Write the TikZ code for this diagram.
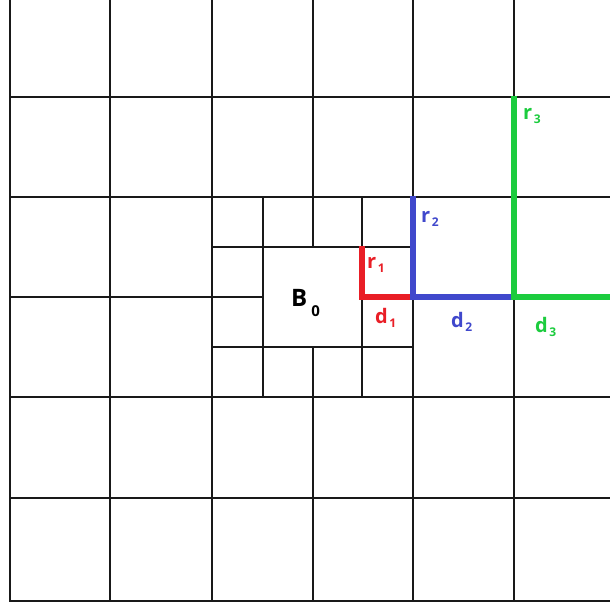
\documentclass[tikz,border=0pt]{standalone}
\usepackage{fontspec}
\setmainfont{Open Sans}
\definecolor{cred}{RGB}{233,30,38}
\definecolor{cblue}{RGB}{64,72,204}
\definecolor{cgreen}{RGB}{28,204,62}
\definecolor{gridc}{RGB}{25,25,25}
\newcommand{\mylab}[2]{\bfseries\fontsize{20}{20}\selectfont #1\hspace{1.5pt}\raisebox{-4pt}{\fontsize{12}{12}\selectfont #2}}
\begin{document}
\begin{tikzpicture}[x=1pt,y=-1pt,
  gridline/.style={draw=gridc,line width=2.8pt,line cap=rect},
  dist/.style={line width=5.5pt,line join=miter,line cap=butt},
  lab/.style={inner sep=0pt,anchor=base west}]
\fill[white] (0,0) rectangle (610,605);
\useasboundingbox (0,0) rectangle (610,605);
% vertical lines
\draw[gridline] (10,0) -- (10,601);
\draw[gridline] (110,0) -- (110,601);
\draw[gridline] (212,0) -- (212,601);
\draw[gridline] (263,197) -- (263,397);
\draw[gridline] (313,0) -- (313,247);
\draw[gridline] (313,347) -- (313,601);
\draw[gridline] (362,197) -- (362,247);
\draw[gridline] (362,297) -- (362,397);
\draw[gridline] (413,0) -- (413,197);
\draw[gridline] (413,297) -- (413,601);
\draw[gridline] (514,0) -- (514,97);
\draw[gridline] (514,297) -- (514,601);
% horizontal lines
\draw[gridline] (10,97) -- (612,97);
\draw[gridline] (10,197) -- (612,197);
\draw[gridline] (212,247) -- (413,247);
\draw[gridline] (10,297) -- (263,297);
\draw[gridline] (212,347) -- (413,347);
\draw[gridline] (10,397) -- (612,397);
\draw[gridline] (10,498) -- (612,498);
\draw[gridline] (10,601) -- (612,601);
% coloured distances
\draw[dist,cred] (362,246) -- (362,297) -- (413,297);
\draw[dist,cblue] (413,196) -- (413,297) -- (514,297);
\draw[dist,cgreen] (514,96) -- (514,297) -- (612,297);
% labels
\node[lab] (B0) at (291,306) {\bfseries\fontsize{24}{24}\selectfont B\hspace{4pt}\raisebox{-10pt}{\fontsize{15}{15}\selectfont 0}};
\node[lab,text=cred] (r1) at (367,268) {\mylab{r}{1}};
\node[lab,text=cred] (d1) at (375,323) {\mylab{d}{1}};
\node[lab,text=cblue] (r2) at (421,222) {\mylab{r}{2}};
\node[lab,text=cblue] (d2) at (451,327) {\mylab{d}{2}};
\node[lab,text=cgreen] (r3) at (523,119) {\mylab{r}{3}};
\node[lab,text=cgreen] (d3) at (535,332) {\mylab{d}{3}};
\end{tikzpicture}
\end{document}
